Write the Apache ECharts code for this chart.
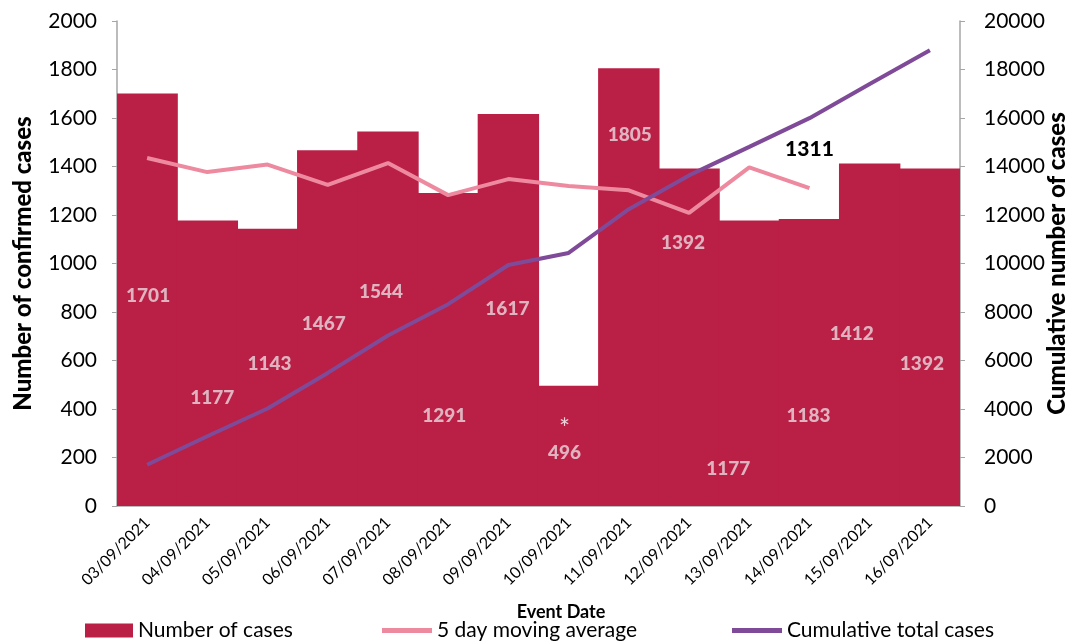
<!DOCTYPE html>
<html>
<head>
<meta charset="utf-8">
<script src="https://cdn.jsdelivr.net/npm/echarts@6/dist/echarts.min.js"></script>
<style>
  html, body { margin: 0; padding: 0; background: #fff; }
  #chart { width: 1070px; height: 644px; }
</style>
</head>
<body>
<div id="chart"></div>
<script>
// datos
const dates = ["03/09/2021", "04/09/2021", "05/09/2021", "06/09/2021", "07/09/2021",
  "08/09/2021", "09/09/2021", "10/09/2021", "11/09/2021", "12/09/2021",
  "13/09/2021", "14/09/2021", "15/09/2021", "16/09/2021"];
const cases = [1701, 1177, 1143, 1467, 1544, 1291, 1617, 496, 1805, 1392, 1177, 1183, 1412, 1392];
const movingAvg = [1435, 1377, 1408, 1324, 1414, 1282, 1348, 1320, 1302, 1209, 1396, 1311];
const cumulative = [1701, 2878, 4021, 5488, 7032, 8323, 9940, 10436, 12241, 13633, 14810, 15993, 17405, 18797];
const leftTicks = [0, 2000];
const rightTicks = [0, 20000];

// donde van las etiquetas de las barras (en unidades del eje izquierdo) - puestas a mano en el original
const labelLevels = [866, 445, 586, 751, 882, 371, 812, 227, 1530, 1085, 153, 371, 709, 586];
const labelShiftX = [1, 5, 2, -4, -7, -4, -1, -4, 1, -6, -21, -1, -18, -8];

const FONT = "Lato, 'Open Sans', sans-serif";
const LINE_ICON = "path://M0,0 L10,0 L10,1 L0,1 Z";
const chart = echarts.init(document.getElementById("chart"));

const legendText = { fontFamily: FONT, fontSize: 21, color: "#000" };

const option = {
  animation: false,
  title: {
    text: "Event Date",
    left: 556,
    top: 598,
    textAlign: "center",
    textStyle: { fontFamily: FONT, fontSize: 18, fontWeight: "bold", color: "#000" },
  },
  legend: [
    {
      data: [{ name: "Number of cases", icon: "rect" }],
      left: 85, top: 620, padding: 0, itemWidth: 48, itemHeight: 14, itemGap: 0,
      textStyle: legendText,
    },
    {
      data: [{ name: "5 day moving average", icon: LINE_ICON }],
      left: 382, top: 620, padding: 0, itemWidth: 50, itemHeight: 14,
      textStyle: legendText,
    },
    {
      data: [{ name: "Cumulative total cases", icon: LINE_ICON }],
      left: 732, top: 620, padding: 0, itemWidth: 50, itemHeight: 14,
      textStyle: legendText,
    },
  ],
  grid: { left: 117, right: 110, top: 21, bottom: 138, outerBoundsMode: "none" },
  xAxis: {
    type: "category",
    data: dates,
    axisLine: { lineStyle: { color: "#a6a6a6", width: 1.5 } },
    axisTick: { length: 5, lineStyle: { color: "#a6a6a6" } },
    axisLabel: {
      rotate: 45, interval: 0, fontFamily: FONT, fontSize: 16, color: "#000", margin: 14,
    },
  },
  yAxis: [
    {
      type: "value",
      min: leftTicks[0], max: leftTicks[1], interval: 200,
      name: "Number of confirmed cases",
      nameLocation: "middle",
      nameGap: 82,
      nameMoveOverlap: false,
      nameTextStyle: { fontFamily: FONT, fontSize: 24, fontWeight: 900, color: "#000" },
      axisLine: { show: true, lineStyle: { color: "#a6a6a6", width: 1.5 } },
      axisTick: { show: true, length: 5, lineStyle: { color: "#a6a6a6" } },
      splitLine: { show: false },
      axisLabel: { fontFamily: FONT, fontSize: 21, color: "#000", margin: 20, formatter: (v) => String(v) },
    },
    {
      type: "value",
      min: rightTicks[0], max: rightTicks[1], interval: 2000,
      name: "Cumulative number of cases",
      nameLocation: "middle",
      nameGap: 85,
      nameMoveOverlap: false,
      nameTextStyle: { fontFamily: FONT, fontSize: 24, fontWeight: 900, color: "#000" },
      axisLine: { show: true, lineStyle: { color: "#a6a6a6", width: 1.5 } },
      axisTick: { show: true, length: 5, lineStyle: { color: "#a6a6a6" } },
      splitLine: { show: false },
      axisLabel: { fontFamily: FONT, fontSize: 21, color: "#000", margin: 24, formatter: (v) => String(v) },
    },
  ],
  series: [
    {
      name: "Number of cases",
      type: "bar",
      data: cases,
      barWidth: "102%",
      itemStyle: { color: "#ba1f46" },
    },
    {
      // etiquetas de las barras
      name: "labels",
      type: "scatter",
      data: labelLevels.map((v, i) => [i, v]),
      symbolSize: 0,
      silent: true,
      z: 5,
      label: {
        show: true,
        position: "inside",
        fontFamily: FONT,
        fontSize: 19,
        fontWeight: 900,
        color: "#e8dade",
        formatter: (p) => (p.dataIndex === 7 ? "{s|*}\n" : "") + cases[p.dataIndex],
        rich: { s: { color: "#fff", fontSize: 26, fontWeight: "normal", lineHeight: 28 } },
      },
      labelLayout: (p) => ({ dx: labelShiftX[p.dataIndex], dy: p.dataIndex === 7 ? -12 : 0 }),
    },
    {
      name: "5 day moving average",
      type: "line",
      data: movingAvg,
      symbol: "circle",
      symbolSize: 0,
      z: 6,
      lineStyle: { color: "#ee8aa0", width: 4 },
      itemStyle: { color: "#ee8aa0" },
      label: {
        show: true,
        position: "top",
        distance: 28,
        fontFamily: FONT,
        fontSize: 21,
        fontWeight: 900,
        color: "#000",
        formatter: (p) => (p.dataIndex === movingAvg.length - 1 ? String(p.value) : ""),
      },
    },
    {
      name: "Cumulative total cases",
      type: "line",
      yAxisIndex: 1,
      data: cumulative,
      symbol: "none",
      z: 7,
      lineStyle: { color: "#7f4a97", width: 4 },
      itemStyle: { color: "#7f4a97" },
    },
  ],
};

chart.setOption(option);
window.addEventListener("resize", () => chart.resize());
</script>
</body>
</html>
